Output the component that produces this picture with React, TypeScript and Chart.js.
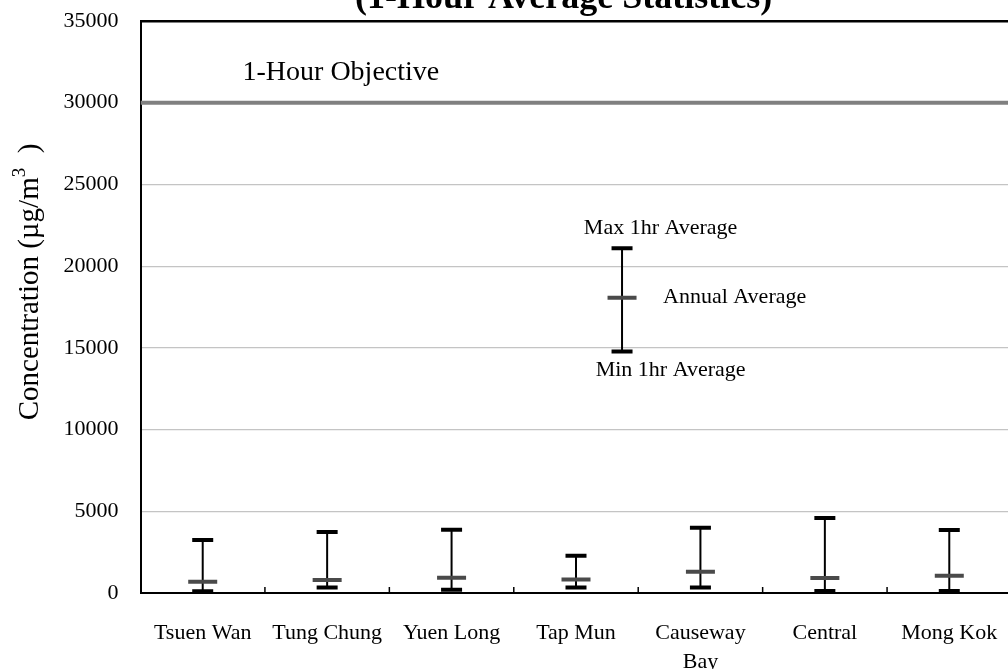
import { useEffect, useRef } from 'react';
import { Chart, registerables } from 'chart.js';

Chart.register(...registerables);

const FONT = "'Liberation Serif', 'Times New Roman', serif";

// stations and 1-hour statistics (ug/m3)
const stations = ['Tsuen Wan', 'Tung Chung', 'Yuen Long', 'Tap Mun', 'Causeway Bay', 'Central', 'Mong Kok'];
const stationLabels = [['Tsuen Wan'], ['Tung Chung'], ['Yuen Long'], ['Tap Mun'], ['Causeway', 'Bay'], ['Central'], ['Mong Kok']];
const maxHourly = [3240, 3730, 3870, 2280, 4000, 4590, 3850];
const annualAvg = [690, 800, 940, 820, 1300, 920, 1060];
const minHourly = [100, 330, 200, 330, 330, 120, 120];

const objective = 30000;
const yMax = 35000;
const yStep = 5000;

// the explanatory key drawn inside the plot
const keyX = 3.37;
const keyMax = 21100;
const keyAvg = 18070;
const keyMin = 14770;

export default function App() {
  const chartRef = useRef<HTMLCanvasElement>(null);
  const chartInstance = useRef<Chart | null>(null);

  useEffect(() => {
    if (!chartRef.current) return;
    if (chartInstance.current) chartInstance.current.destroy();

    const xs = [...stations.map((_, i) => i), keyX];
    const maxs = [...maxHourly, keyMax];
    const avgs = [...annualAvg, keyAvg];
    const mins = [...minHourly, keyMin];

    const whiskers: { x: number; y: number | null }[] = [];
    xs.forEach((x, i) => {
      whiskers.push({ x, y: mins[i] }, { x, y: maxs[i] }, { x, y: null });
    });
    const caps = xs.flatMap((x, i) => [{ x, y: maxs[i] }, { x, y: mins[i] }]);
    const avgPts = xs.map((x, i) => ({ x, y: avgs[i] }));

    // title, axis title, boundary tick marks and text notes
    const notes = {
      id: 'notes',
      afterDatasetsDraw(chart: Chart) {
        const { ctx, scales, chartArea } = chart;
        const sx = scales.x;
        const sy = scales.y;
        ctx.save();
        ctx.strokeStyle = '#000';
        ctx.lineWidth = 1.5;
        for (let i = 0; i < stations.length - 1; i++) {
          const px = sx.getPixelForValue(i + 0.5);
          ctx.beginPath();
          ctx.moveTo(px, chartArea.bottom - 6);
          ctx.lineTo(px, chartArea.bottom);
          ctx.stroke();
        }
        ctx.fillStyle = '#000';

        ctx.font = `bold 36px ${FONT}`;
        ctx.textAlign = 'center';
        ctx.textBaseline = 'alphabetic';
        ctx.fillText('(1-Hour Average Statistics)', sx.getPixelForValue(2.9), chartArea.top - 13);

        // rotated axis title with a raised "3"
        ctx.save();
        ctx.translate(38, sy.getPixelForValue(19030));
        ctx.rotate(-Math.PI / 2);
        const big = `29px ${FONT}`;
        const small = `19px ${FONT}`;
        const parts: [string, string, number][] = [
          ['Concentration (µg/m', big, 0],
          ['3', small, -13],
          ['  )', big, 0],
        ];
        let total = 0;
        parts.forEach(([t, f]) => {
          ctx.font = f;
          total += ctx.measureText(t).width;
        });
        let cx = -total / 2;
        ctx.textAlign = 'left';
        parts.forEach(([t, f, dy]) => {
          ctx.font = f;
          ctx.fillText(t, cx, dy);
          cx += ctx.measureText(t).width;
        });
        ctx.restore();

        ctx.textBaseline = 'middle';
        ctx.font = `28px ${FONT}`;
        ctx.textAlign = 'left';
        ctx.fillText('1-Hour Objective', sx.getPixelForValue(0.32), sy.getPixelForValue(31850));
        ctx.font = `22px ${FONT}`;
        ctx.textAlign = 'center';
        ctx.fillText('Max 1hr Average', sx.getPixelForValue(keyX + 0.31), sy.getPixelForValue(22330));
        ctx.fillText('Min 1hr Average', sx.getPixelForValue(keyX + 0.39), sy.getPixelForValue(13650));
        ctx.textAlign = 'left';
        ctx.fillText('Annual Average', sx.getPixelForValue(keyX + 0.33), sy.getPixelForValue(keyAvg));
        ctx.restore();
      },
    };

    chartInstance.current = new Chart(chartRef.current, {
      type: 'line',
      data: {
        datasets: [
          {
            data: avgPts,
            showLine: false,
            pointStyle: 'line',
            pointRadius: 14.5,
            pointBorderWidth: 4,
            pointBorderColor: '#4a4a4a',
            order: 0,
          },
          {
            data: caps,
            showLine: false,
            pointStyle: 'line',
            pointRadius: 10.5,
            pointBorderWidth: 4,
            pointBorderColor: '#000',
            order: 1,
          },
          {
            data: whiskers,
            borderColor: '#000',
            borderWidth: 2,
            pointRadius: 0,
            spanGaps: false,
            order: 2,
          },
          {
            data: [{ x: -0.5, y: objective }, { x: stations.length - 0.5, y: objective }],
            borderColor: '#808080',
            borderWidth: 4,
            pointRadius: 0,
            order: 3,
          },
        ],
      },
      options: {
        responsive: true,
        maintainAspectRatio: false,
        animation: false,
        events: [],
        layout: { padding: { left: 0, right: 12.5, top: 21, bottom: 0 } },
        plugins: {
          legend: { display: false },
          tooltip: { enabled: false },
          title: { display: false },
        },
        scales: {
          x: {
            type: 'linear',
            min: -0.5,
            max: stations.length - 0.5,
            grid: { display: false },
            border: { color: '#000', width: 2 },
            afterBuildTicks: (axis: any) => {
              axis.ticks = stations.map((_, i) => ({ value: i }));
            },
            afterFit: (scale: any) => {
              scale.height = 76;
            },
            ticks: {
              autoSkip: false,
              maxRotation: 0,
              padding: 17,
              color: '#000',
              font: { family: FONT, size: 22, lineHeight: 1.35 },
              callback: (_v: any, i: number) => stationLabels[i],
            },
          },
          y: {
            min: 0,
            max: yMax,
            afterFit: (scale: any) => {
              scale.width = 140.5;
            },
            ticks: {
              stepSize: yStep,
              padding: 0,
              color: '#000',
              font: { family: FONT, size: 22 },
              callback: (v: any) => String(v),
            },
            grid: {
              drawTicks: true,
              tickLength: 22,
              tickColor: 'rgba(0,0,0,0)',
              color: (c: any) => (c.tick && c.tick.value === yMax ? '#000' : '#c4c4c4'),
              lineWidth: (c: any) => {
                const v = c.tick ? c.tick.value : 0;
                if (v === yMax) return 2.5;
                if (v === 0) return 0;
                return 1.2;
              },
            },
            border: { color: '#000', width: 2 },
          },
        },
      },
      plugins: [notes],
    });

    return () => {
      if (chartInstance.current) {
        chartInstance.current.destroy();
        chartInstance.current = null;
      }
    };
  }, []);

  return (
    <div style={{ position: 'fixed', left: 0, top: 0, width: 1008, height: 669, overflow: 'hidden', background: '#fff' }}>
      <div style={{ width: 1030, height: 669 }}>
        <canvas ref={chartRef} />
      </div>
    </div>
  );
}
